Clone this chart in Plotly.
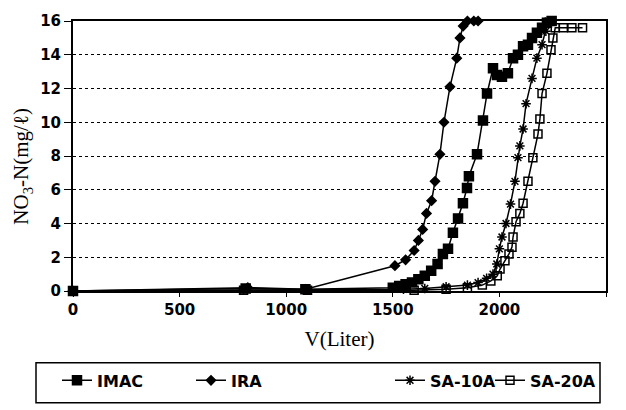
import plotly.graph_objects as go

# Breakthrough curves: effluent NO3-N vs. treated volume
imac_v = [0, 810, 1090, 1500, 1530, 1560, 1590, 1620, 1650, 1680, 1710, 1735, 1759, 1782,
          1806, 1829, 1848, 1857, 1895, 1923, 1942, 1970, 1989, 2012, 2040, 2064, 2087,
          2111, 2134, 2153, 2176, 2200, 2223, 2245]
imac_c = [0, 0.15, 0.1, 0.2, 0.3, 0.4, 0.5, 0.7, 0.9, 1.2, 1.6, 2.2, 2.5, 3.45,
          4.3, 5.2, 6.1, 6.8, 8.1, 10.1, 11.7, 13.2, 12.8, 12.7, 12.9, 13.8, 14.0,
          14.5, 14.6, 15.0, 15.3, 15.6, 15.9, 16.0]

ira_v = [0, 820, 1090, 1510, 1560, 1600, 1620, 1640, 1658, 1682, 1698, 1721, 1740,
         1768, 1800, 1815, 1830, 1850, 1880, 1900]
ira_c = [0, 0.2, 0.1, 1.5, 1.85, 2.4, 3.0, 3.65, 4.6, 5.35, 6.5, 8.1, 10.0,
         12.1, 13.8, 15.0, 15.7, 16.0, 16.0, 16.0]

sa10_v = [0, 800, 1100, 1550, 1650, 1750, 1850, 1900, 1940, 1970, 1988, 2000, 2012,
          2031, 2052, 2073, 2087, 2096, 2111, 2125, 2153, 2176, 2200, 2218, 2228, 2247]
sa10_c = [0, 0.05, 0.05, 0.1, 0.15, 0.25, 0.35, 0.5, 0.75, 1.0, 1.6, 2.5, 3.2,
          4.0, 5.15, 6.5, 7.9, 8.6, 9.6, 11.1, 12.6, 13.8, 14.6, 15.4, 16.0, 16.0]

sa20_v = [0, 800, 1100, 1600, 1750, 1850, 1920, 1960, 1990, 2003, 2026, 2045, 2059,
          2064, 2078, 2096, 2111, 2134, 2157, 2181, 2190, 2200, 2223, 2242, 2251,
          2262, 2300, 2340, 2390]
sa20_c = [0, 0.05, 0.05, 0.05, 0.1, 0.2, 0.35, 0.6, 0.9, 1.3, 1.8, 2.2, 2.6,
          3.2, 4.1, 4.6, 5.2, 6.5, 7.9, 9.3, 10.2, 11.7, 12.9, 14.3, 15.0,
          15.6, 15.6, 15.6, 15.6]

x_ticks = [0, 500, 1000, 1500, 2000, 2500]
y_ticks = [0, 2, 4, 6, 8, 10, 12, 14, 16]

series = [
    ("IMAC", imac_v, imac_c, "square", 9, "legend"),
    ("IRA", ira_v, ira_c, "diamond", 7, "legend2"),
    ("SA-10A", sa10_v, sa10_c, "asterisk-open", 8, "legend3"),
    ("SA-20A", sa20_v, sa20_c, "square-open", 8, "legend4"),
]

fig = go.Figure()
for name, xs, ys, sym, sz, lg in series:
    fig.add_trace(go.Scatter(
        x=xs, y=ys, name=name, mode="lines+markers",
        line=dict(color="black", width=1.5),
        marker=dict(symbol=sym, size=sz, color="black",
                    line=dict(color="black", width=1.5)),
        cliponaxis=False, legend=lg,
    ))

leg_font = dict(family="DejaVu Sans", size=16, color="black", weight="bold")
leg_common = dict(orientation="h", yanchor="middle", y=-0.331, xanchor="left",
                  bgcolor="rgba(0,0,0,0)", borderwidth=0, font=leg_font)

fig.update_layout(
    width=626, height=410,
    margin=dict(l=73, r=20, t=15, b=117),
    paper_bgcolor="white", plot_bgcolor="white",
    showlegend=True,
    legend=dict(x=(57 - 73) / 533, **leg_common),
    legend2=dict(x=(191 - 73) / 533, **leg_common),
    legend3=dict(x=(390 - 73) / 533, **leg_common),
    legend4=dict(x=(490 - 73) / 533, **leg_common),
    xaxis=dict(
        range=[0, 2500], tickvals=x_ticks, showgrid=False, zeroline=False,
        showline=True, linecolor="black", linewidth=1.5, mirror=True,
        ticks="outside", ticklen=4, tickcolor="black",
        tickfont=dict(family="DejaVu Sans", size=15, color="black", weight="bold"),
        title=dict(text="V(Liter)", standoff=14,
                   font=dict(family="Liberation Serif", size=21, color="black")),
    ),
    yaxis=dict(
        range=[0, 16], tickvals=y_ticks, zeroline=False,
        showgrid=True, gridcolor="black", griddash="dot", gridwidth=1,
        showline=True, linecolor="black", linewidth=2, mirror=True,
        ticks="outside", ticklen=7, tickcolor="black",
        tickfont=dict(family="DejaVu Sans", size=15, color="black", weight="bold"),
    ),
    annotations=[dict(
        text="NO<sub>3</sub>-N(mg/ℓ)", textangle=-90, showarrow=False,
        xref="paper", yref="paper", x=(22 - 73) / 533, y=(293 - 165) / 278,
        xanchor="center", yanchor="middle",
        font=dict(family="Liberation Serif", size=21, color="black"),
    )],
    shapes=[dict(
        type="rect", xref="paper", yref="paper",
        x0=(36 - 73) / 533, x1=(600 - 73) / 533,
        y0=(293 - 408) / 278, y1=(293 - 367) / 278,
        line=dict(color="black", width=1.5), fillcolor="rgba(0,0,0,0)",
    )],
)

fig.write_html("out.html")
